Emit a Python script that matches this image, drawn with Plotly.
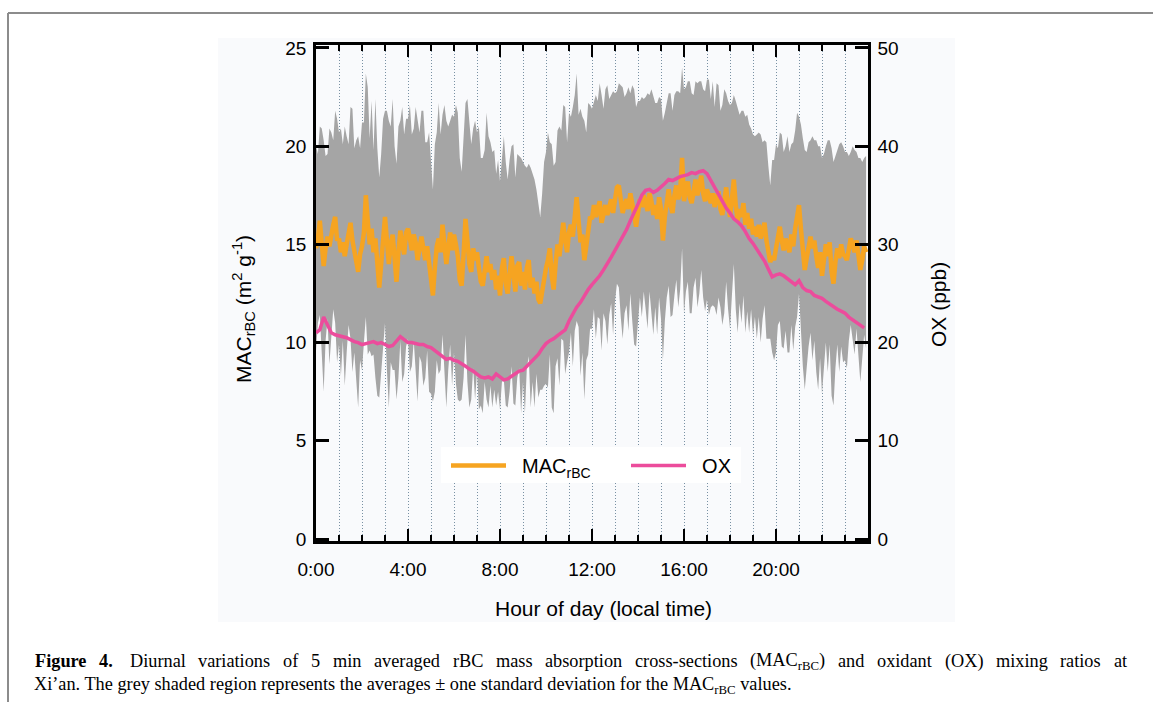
import plotly.graph_objects as go

# ---------------- data (5-min averages, 0:00 .. 23:55) ----------------
mac_mean = [
    14.8, 15.3, 16.2, 15.0, 13.9, 14.8, 15.4, 14.9, 15.6, 16.0, 16.4, 15.2,
    15.3, 14.6, 15.1, 14.4, 15.0, 15.5, 16.1, 15.2, 14.7, 14.2, 13.6, 14.5,
    14.9, 15.6, 17.5, 16.2, 15.0, 15.8, 14.6, 15.3, 13.6, 12.8, 14.0, 15.6,
    16.4, 15.2, 14.0, 15.0, 15.5, 14.3, 13.1, 14.6, 15.7, 15.0, 14.5, 15.6,
    15.8, 15.3, 14.7, 15.5, 15.1, 14.2, 15.0, 15.4, 14.8, 14.2, 14.9, 14.1,
    13.4, 12.4, 13.8, 14.9, 15.3, 14.6, 16.0, 15.1, 14.0, 14.8, 15.6, 14.7,
    15.5, 15.0, 14.4, 13.2, 12.9, 14.5, 16.3, 15.2, 14.0, 13.6, 14.8, 14.2,
    14.6, 13.8, 13.1, 12.9, 13.9, 14.4, 13.6, 14.0, 13.2, 13.7, 12.7, 13.4,
    12.4, 13.8, 14.3, 13.0, 12.5, 13.4, 14.4, 13.5, 12.6, 13.9, 14.1, 12.9,
    13.6, 12.7, 13.8, 14.2, 12.8, 13.3, 12.5, 13.1, 12.2, 12.0, 12.6, 13.5,
    13.8, 14.2, 14.8, 13.4, 12.7, 14.0, 15.0, 14.4, 15.5, 16.1, 15.2, 14.6,
    15.6, 16.0, 15.4, 16.6, 17.4, 16.2, 15.1, 15.5, 14.2, 14.9, 15.8, 16.4,
    16.3, 17.0, 16.4, 16.8, 17.2, 16.1, 16.7, 17.0, 16.5, 16.9, 17.3, 16.6,
    17.4, 17.9, 18.0, 17.2, 16.6, 17.0, 17.3, 16.8, 17.6, 17.1, 16.4, 15.9,
    16.6, 17.3, 16.9, 17.5, 17.1, 16.7, 17.6, 17.2, 16.5, 17.0, 16.3, 17.4,
    16.8, 15.2, 16.4, 17.3, 17.8, 17.0, 16.6, 17.5, 18.0, 17.3, 17.7, 19.4,
    17.2, 17.8, 18.2, 17.4, 17.1, 17.7, 18.3, 17.5, 17.9, 18.5, 17.6, 17.2,
    17.8, 17.4, 17.1, 17.6, 16.9, 17.3, 17.7, 16.8, 16.5, 17.2, 17.9, 17.0,
    16.4, 17.3, 18.3, 17.0, 16.2, 16.8, 16.4, 17.1, 16.0, 16.6, 15.8, 16.3,
    15.5, 15.9, 15.4, 16.0, 15.3, 15.7, 16.1, 15.2, 14.6, 14.1, 14.4, 14.2,
    14.8, 15.4, 15.9, 15.2, 14.7, 15.3, 15.0, 14.6, 15.5, 14.9, 15.8, 16.5,
    17.0, 15.8, 14.6, 13.7, 14.3, 15.0, 15.4, 14.8, 15.2, 14.4, 13.8, 14.6,
    13.4, 14.2, 15.0, 14.4, 15.1, 13.6, 13.0, 14.1, 14.8, 14.3, 15.0, 14.5,
    14.4, 14.2, 14.8, 15.3, 15.0, 14.6, 15.2, 14.4, 13.7, 14.2, 14.9, 14.6,
]

mac_sd = [
    5.2, 4.3, 4.8, 5.9, 6.4, 4.7, 4.2, 6.0, 5.1, 4.3, 5.4, 6.2,
    5.4, 6.3, 5.0, 6.6, 5.5, 4.6, 5.9, 6.7, 5.2, 6.1, 6.9, 5.4,
    6.3, 5.6, 6.2, 6.8, 5.4, 6.5, 5.2, 7.1, 6.3, 5.6, 5.6, 5.8,
    5.4, 6.6, 7.3, 6.0, 6.9, 5.7, 6.0, 6.4, 5.6, 7.0, 6.1, 5.8,
    5.6, 6.8, 5.9, 5.4, 6.9, 7.2, 5.7, 6.4, 7.0, 6.0, 5.3, 6.6,
    6.0, 5.4, 6.3, 5.8, 6.9, 6.0, 5.6, 7.0, 7.3, 6.2, 5.7, 6.9,
    6.0, 7.1, 7.3, 6.2, 5.8, 6.3, 5.9, 7.2, 7.3, 6.5, 6.1, 7.1,
    6.1, 7.2, 6.3, 6.5, 5.9, 7.3, 6.9, 6.2, 6.5, 6.1, 5.9, 5.9,
    5.8, 5.8, 6.2, 6.2, 5.8, 5.9, 5.6, 6.6, 5.8, 5.7, 5.4, 6.5,
    5.6, 6.3, 5.1, 4.9, 6.1, 5.3, 5.8, 4.7, 5.0, 4.4, 5.0, 5.7,
    5.9, 6.5, 5.4, 6.7, 6.3, 5.2, 5.8, 6.6, 5.3, 6.0, 6.8, 5.6,
    6.1, 5.5, 6.6, 6.0, 6.3, 5.4, 6.8, 6.0, 7.1, 5.8, 6.4, 5.7,
    5.6, 5.3, 6.2, 5.5, 6.0, 6.5, 5.2, 5.9, 6.6, 5.5, 5.3, 6.2,
    5.3, 4.9, 5.2, 5.9, 6.4, 5.5, 5.4, 6.2, 5.1, 6.0, 6.5, 6.1,
    5.7, 5.0, 5.6, 4.9, 5.4, 6.0, 5.0, 5.7, 6.1, 5.2, 5.9, 5.1,
    5.6, 6.1, 5.3, 5.0, 4.9, 5.7, 5.2, 5.1, 4.8, 5.5, 5.0, 4.6,
    5.7, 5.2, 5.1, 5.9, 5.6, 4.9, 5.0, 5.7, 5.4, 4.8, 5.3, 5.6,
    5.6, 6.0, 5.3, 5.7, 5.1, 5.9, 5.4, 5.0, 5.6, 5.7, 4.8, 5.3,
    5.7, 4.9, 4.3, 5.3, 5.7, 4.8, 5.4, 4.7, 5.5, 5.0, 5.3, 4.6,
    5.1, 4.6, 5.2, 4.7, 5.3, 4.5, 4.2, 5.0, 4.4, 3.9, 4.9, 5.1,
    5.3, 4.5, 4.8, 5.4, 5.0, 4.7, 5.5, 5.1, 4.6, 5.3, 5.0, 5.2,
    4.5, 5.3, 5.8, 6.1, 5.4, 5.2, 4.9, 5.7, 5.1, 5.9, 6.2, 5.4,
    6.0, 5.4, 5.0, 5.9, 5.2, 6.3, 6.2, 5.4, 4.9, 5.8, 5.2, 5.5,
    5.3, 5.5, 4.7, 4.4, 5.0, 5.2, 4.5, 5.0, 5.7, 5.0, 4.5, 4.9,
]

# OX, 10-min resolution (ppb)
ox = [
    21.0, 21.3, 22.6, 21.8, 21.0, 20.8,
    20.7, 20.6, 20.5, 20.3, 20.1, 20.0,
    19.8, 19.9, 20.0, 20.1, 19.9, 20.0,
    19.8, 19.6, 19.7, 20.2, 20.6, 20.3,
    20.0, 20.0, 19.9, 19.8, 19.8, 19.6,
    19.5, 19.2, 18.8, 18.5, 18.3, 18.4,
    18.2, 18.1, 17.9, 17.6, 17.3, 17.1,
    16.8, 16.5, 16.4, 16.5, 16.3, 16.8,
    16.5, 16.2, 16.3, 16.6, 16.8, 17.1,
    17.2, 17.6, 17.9, 18.3, 18.8, 19.4,
    19.9, 20.2, 20.4, 20.7, 21.0, 21.3,
    22.2, 23.0, 23.6, 24.1, 24.8, 25.4,
    25.9, 26.3, 26.8, 27.4, 28.0, 28.7,
    29.4, 30.1, 30.8, 31.5, 32.4, 33.2,
    34.1, 35.0, 35.5, 35.6, 35.3, 35.5,
    35.8, 36.2, 36.6, 36.5, 36.7, 36.9,
    37.0, 37.1, 37.3, 37.2, 37.4, 37.5,
    37.2, 36.5, 35.9, 35.2, 34.5, 33.7,
    33.2, 32.6, 32.3, 31.9, 31.3, 30.6,
    30.1, 29.5, 28.8, 28.3, 27.5, 26.7,
    26.9, 27.0, 26.8, 26.5, 26.2, 25.9,
    26.3, 25.6, 25.3, 25.2, 24.8, 24.6,
    24.5, 24.2, 23.9, 23.7, 23.4, 23.2,
    23.0, 22.6, 22.3, 22.0, 21.8, 21.5,
]

hour_tickvals = [0, 4, 8, 12, 16, 20]
hour_ticktext = ["0:00", "4:00", "8:00", "12:00", "16:00", "20:00"]
mac_tickvals = [0, 5, 10, 15, 20, 25]
ox_tickvals = [0, 10, 20, 30, 40, 50]

t5 = [i * 5 / 60 for i in range(len(mac_mean))]
t10 = [i * 10 / 60 for i in range(len(ox))]
mac_upper = [m + s for m, s in zip(mac_mean, mac_sd)]
mac_lower = [m - s for m, s in zip(mac_mean, mac_sd)]

SANS = "Liberation Sans, Arial, sans-serif"
SERIF = "Liberation Serif, Times New Roman, serif"

fig = go.Figure()
fig.add_trace(go.Scatter(x=t5, y=mac_lower, mode="lines", line=dict(width=0, color="#a5a5a5"),
                         showlegend=False, hoverinfo="skip"))
fig.add_trace(go.Scatter(x=t5, y=mac_upper, mode="lines", line=dict(width=0, color="#a5a5a5"),
                         fill="tonexty", fillcolor="#a5a5a5", showlegend=False, hoverinfo="skip"))
fig.add_trace(go.Scatter(x=t5, y=mac_mean, mode="lines", name="\u00a0\u00a0MAC<sub>rBC</sub>",
                         line=dict(color="#F6A421", width=4.5)))
fig.add_trace(go.Scatter(x=t10, y=ox, mode="lines", name="\u00a0\u00a0OX", yaxis="y2",
                         line=dict(color="#EC4C9C", width=3.5)))

L, R, T, B = 316, 868, 45, 541
W, H = 1153, 702

def px(x):
    return (x - L) / (R - L)

def py(y):
    return (B - y) / (B - T)

grid_style = dict(showgrid=True, gridcolor="#7890a3", gridwidth=1, griddash="1px,2px")

# ---- caption line 1, justified between two margins (Times metrics, 1/1000 em) ----
REG = dict(zip("abcdefghijklmnopqrstuvwxyz",
               [444, 500, 444, 500, 444, 333, 500, 500, 278, 278, 500, 278, 778,
                500, 500, 500, 500, 333, 389, 278, 500, 500, 722, 500, 500, 444]))
REG.update({"A": 722, "B": 667, "C": 667, "D": 722, "F": 556, "M": 889, "O": 722, "X": 722,
            "(": 333, ")": 333, "-": 333, ".": 250, "4": 500, "5": 500})
BOLD = {"F": 611, "i": 278, "g": 500, "u": 556, "r": 444, "e": 444, "4": 500, ".": 250}

cap_size = 18.3
words1 = [("Figure", "b"), ("4.", "b"), ("Diurnal", ""), ("variations", ""), ("of", ""), ("5", ""),
          ("min", ""), ("averaged", ""), ("rBC", ""), ("mass", ""), ("absorption", ""),
          ("cross-sections", ""), ("(MAC|rBC|)", ""), ("and", ""), ("oxidant", ""), ("(OX)", ""),
          ("mixing", ""), ("ratios", ""), ("at", "")]

def word_width(w, style):
    if style == "b":
        return sum(BOLD[c] for c in w) / 1000 * cap_size
    parts = w.split("|")
    tot = 0.0
    for k, p in enumerate(parts):
        scale = 0.7 if k == 1 else 1.0
        tot += sum(REG[c] for c in p) * scale
    return tot / 1000 * cap_size

widths = [word_width(w, s) for w, s in words1]
x_start, x_end = 34, 1126
extra_after_fig = 4  # double space after "Figure 4."
gap = (x_end - x_start - sum(widths) - extra_after_fig) / (len(words1) - 1)
cap_annots = []
xpos = x_start
for i, ((w, s), wd) in enumerate(zip(words1, widths)):
    if s == "b":
        txt = "<b>" + w + "</b>"
    else:
        parts = w.split("|")
        txt = parts[0] + ("<sub>" + parts[1] + "</sub>" + parts[2] if len(parts) == 3 else "")
    cap_annots.append(dict(xref="paper", yref="paper", x=px(xpos - 1), y=py(661), xanchor="left",
                           yanchor="middle", showarrow=False,
                           font=dict(family=SERIF, size=cap_size, color="black"), text=txt))
    xpos += wd + gap + (extra_after_fig if i == 1 else 0)

fig.update_layout(
    width=W, height=H,
    margin=dict(l=L, r=W - R, t=T, b=H - B, pad=0),
    paper_bgcolor="white",
    plot_bgcolor="#fbfcfd",
    font=dict(family=SANS, size=19, color="black"),
    xaxis=dict(
        range=[0, 24], tickvals=hour_tickvals, ticktext=hour_ticktext,
        ticks="inside", ticklen=12, tickwidth=2, tickcolor="black",
        showline=True, linewidth=2.5, linecolor="black", mirror="ticks",
        zeroline=False, tickfont=dict(size=19), ticklabelstandoff=9,
        minor=dict(dtick=1, ticks="inside", ticklen=6, tickwidth=2, tickcolor="black", **grid_style),
        **grid_style,
    ),
    yaxis=dict(
        range=[-0.1, 25.15], tickvals=mac_tickvals,
        ticks="inside", ticklen=13, tickwidth=2.5, tickcolor="black",
        showline=True, linewidth=2.5, linecolor="black", showgrid=False, zeroline=False,
        tickfont=dict(size=19), ticklabelstandoff=3,
    ),
    yaxis2=dict(
        range=[-0.2, 50.3], tickvals=ox_tickvals, overlaying="y", side="right",
        ticks="inside", ticklen=13, tickwidth=2.5, tickcolor="black",
        showline=True, linewidth=2.5, linecolor="black", showgrid=False, zeroline=False,
        tickfont=dict(size=19), ticklabelstandoff=3,
    ),
    legend=dict(
        orientation="h", x=px(446), y=py(446), xanchor="left", yanchor="top",
        bgcolor="rgba(0,0,0,0)", borderwidth=0, font=dict(size=20, family=SANS),
        itemwidth=55, traceorder="normal", entrywidth=110, entrywidthmode="pixels",
    ),
    shapes=[
        dict(type="rect", xref="paper", yref="paper", x0=px(218), x1=px(955), y0=py(622), y1=py(38),
             fillcolor="#f9fafc", line=dict(width=0), layer="below"),
        # white legend backing box
        dict(type="rect", xref="paper", yref="paper", x0=px(441), x1=px(741), y0=py(483), y1=py(447),
             fillcolor="white", line=dict(width=0), layer="above"),
        dict(type="line", xref="paper", yref="paper", x0=px(8), x1=px(1160), y0=py(13), y1=py(13),
             line=dict(color="#8c8c8c", width=2)),
        dict(type="line", xref="paper", yref="paper", x0=px(8), x1=px(8), y0=py(13), y1=py(710),
             line=dict(color="#8c8c8c", width=2)),
    ],
    annotations=[
        dict(xref="paper", yref="paper", x=px(603), y=py(608), xanchor="center", yanchor="middle",
             showarrow=False, font=dict(family=SANS, size=21), text="Hour of day (local time)"),
        dict(xref="paper", yref="paper", x=px(243), y=py(309), xanchor="center", yanchor="middle",
             showarrow=False, textangle=-90, font=dict(family=SANS, size=21),
             text="MAC<sub>rBC</sub> (m<sup>2</sup> g<sup>-1</sup>)"),
        dict(xref="paper", yref="paper", x=px(938), y=py(305), xanchor="center", yanchor="middle",
             showarrow=False, textangle=-90, font=dict(family=SANS, size=21), text="OX (ppb)"),
        *cap_annots,
        dict(xref="paper", yref="paper", x=px(32), y=py(685), xanchor="left", yanchor="middle",
             showarrow=False, align="left", font=dict(family=SERIF, size=cap_size, color="black"),
             text="Xi\u2019an. The grey shaded region represents the averages \u00b1 one standard deviation "
                  "for the MAC<sub>rBC</sub> values."),
    ],
)

fig.write_html("out.html")
